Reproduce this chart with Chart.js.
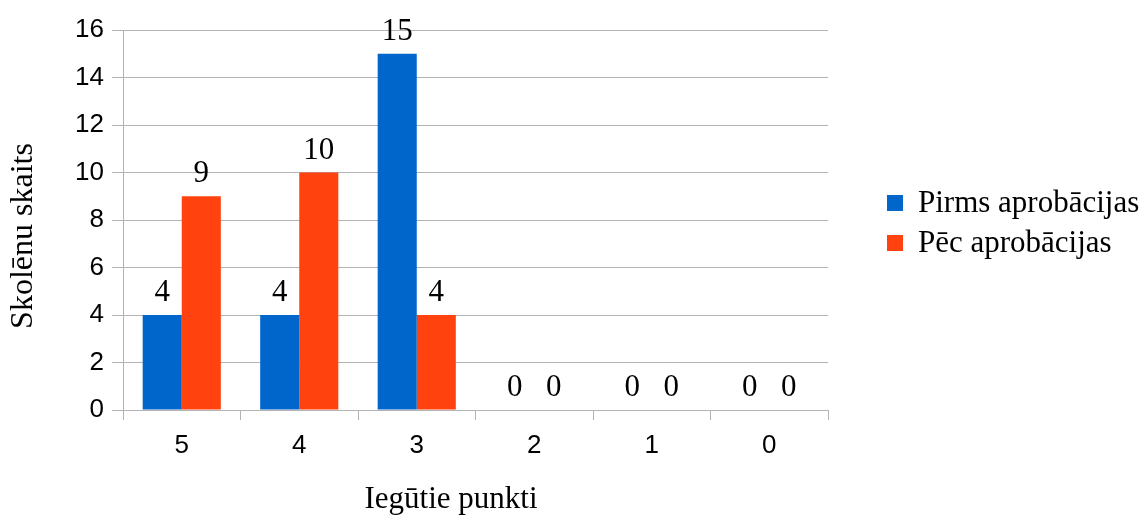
<!DOCTYPE html>
<html>
<head>
<meta charset="utf-8">
<script src="https://cdn.jsdelivr.net/npm/chart.js@4/dist/chart.umd.min.js"></script>
<style>
  html, body { margin: 0; padding: 0; background: #ffffff; }
  #wrap { width: 1142px; height: 516px; }
</style>
</head>
<body>
<div id="wrap"><canvas id="pointsChart" width="1142" height="516"></canvas></div>
<script>
// Chart data
var categories = ['5', '4', '3', '2', '1', '0'];
var beforeValues = [4, 4, 15, 0, 0, 0];
var afterValues = [9, 10, 4, 0, 0, 0];
var yTicks = [0, 2, 4, 6, 8, 10, 12, 14, 16];

var seriesNames = ['Pirms aprobācijas', 'Pēc aprobācijas'];
var seriesColors = ['#0066cc', '#ff420e'];

var serif = '"Liberation Serif", "DejaVu Serif", serif';
var sans = '"Liberation Sans", Arial, sans-serif';

// Value labels above each bar
var valueLabels = {
  id: 'valueLabels',
  afterDatasetsDraw: function (chart) {
    var ctx = chart.ctx;
    ctx.save();
    ctx.fillStyle = '#000';
    ctx.font = '31px ' + serif;
    ctx.textAlign = 'center';
    ctx.textBaseline = 'alphabetic';
    chart.data.datasets.forEach(function (ds, i) {
      var meta = chart.getDatasetMeta(i);
      meta.data.forEach(function (bar, j) {
        ctx.fillText(String(ds.data[j]), bar.x, bar.y - 14);
      });
    });
    ctx.restore();
  }
};

// Axis titles and legend on the right
var extras = {
  id: 'extras',
  afterDraw: function (chart) {
    var ctx = chart.ctx;
    ctx.save();
    ctx.fillStyle = '#000';
    ctx.font = '31px ' + serif;
    ctx.textAlign = 'center';
    ctx.textBaseline = 'alphabetic';
    ctx.fillText('Iegūtie punkti', 451, 508);

    ctx.save();
    ctx.translate(32, 236);
    ctx.rotate(-Math.PI / 2);
    ctx.font = '32px ' + serif;
    ctx.fillText('Skolēnu skaits', 0, 0);
    ctx.restore();

    ctx.textAlign = 'left';
    ctx.textBaseline = 'middle';
    for (var i = 0; i < seriesNames.length; i++) {
      var cy = 203 + i * 40;
      ctx.fillStyle = seriesColors[i];
      ctx.fillRect(887, cy - 8, 16, 16);
      ctx.fillStyle = '#000';
      ctx.fillText(seriesNames[i], 918, cy + 1);
    }
    ctx.restore();
  }
};

var ctx = document.getElementById('pointsChart').getContext('2d');
var pointsChart = new Chart(ctx, {
  type: 'bar',
  data: {
    labels: categories,
    datasets: [{
      label: seriesNames[0],
      data: beforeValues,
      backgroundColor: seriesColors[0],
      borderWidth: 0
    }, {
      label: seriesNames[1],
      data: afterValues,
      backgroundColor: seriesColors[1],
      borderWidth: 0
    }]
  },
  options: {
    responsive: false,
    animation: false,
    devicePixelRatio: 1,
    categoryPercentage: 0.665,
    barPercentage: 1.0,
    layout: { padding: { left: 0, right: 314, top: 30, bottom: 0 } },
    plugins: {
      legend: { display: false },
      tooltip: { enabled: false }
    },
    scales: {
      x: {
        grid: {
          offset: true,
          drawOnChartArea: false,
          drawTicks: true,
          tickLength: 10,
          color: '#b3b3b3'
        },
        border: { display: true, color: '#b3b3b3', width: 1 },
        ticks: {
          color: '#000',
          font: { family: sans, size: 26 },
          padding: 10
        },
        afterFit: function (scale) { scale.height = 106; }
      },
      y: {
        min: 0,
        max: 16,
        afterBuildTicks: function (scale) {
          scale.ticks = yTicks.map(function (v) { return { value: v }; });
        },
        grid: {
          color: '#b3b3b3',
          drawTicks: true,
          tickLength: 11
        },
        border: { display: true, color: '#b3b3b3', width: 1 },
        ticks: {
          color: '#000',
          font: { family: sans, size: 26 },
          padding: 8
        },
        afterFit: function (scale) { scale.width = 123; }
      }
    }
  },
  plugins: [valueLabels, extras]
});
</script>
</body>
</html>
